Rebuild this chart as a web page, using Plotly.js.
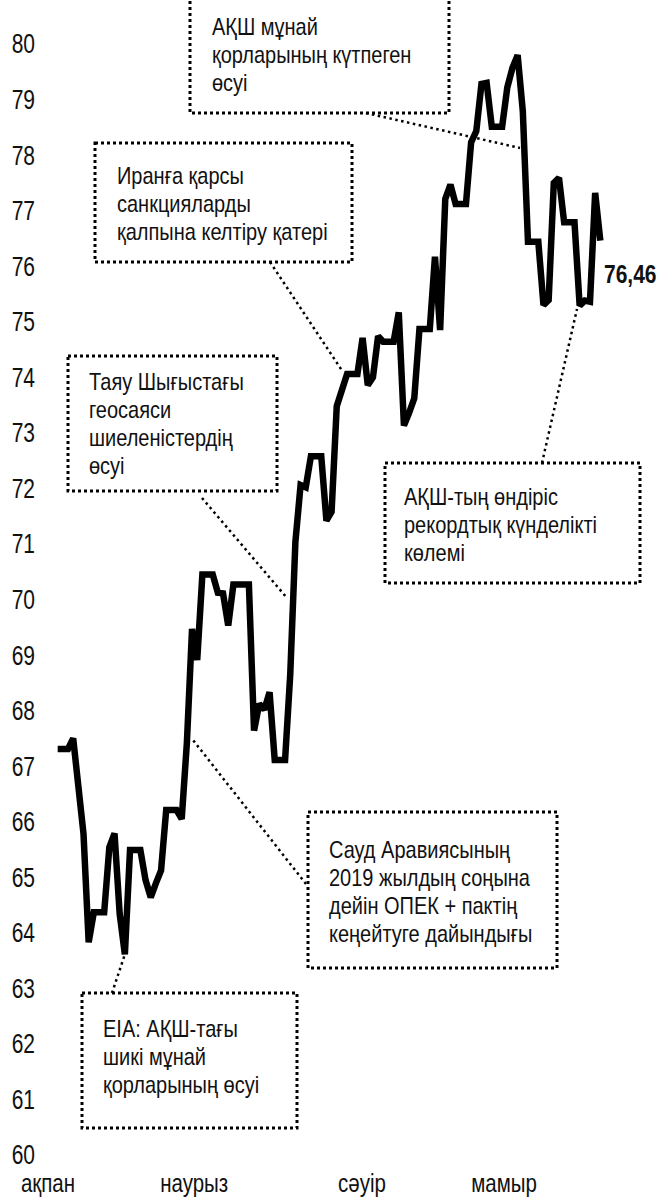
<!DOCTYPE html>
<html>
<head>
<meta charset="utf-8">
<script src="https://cdn.plot.ly/plotly-3.0.1.min.js"></script>
<style>html,body{margin:0;padding:0;background:#fff}</style>
</head>
<body>
<div id="chart" style="width:660px;height:1202px"></div>
<script>
// ---------------- data ----------------
const startDate = '2018-02-23';
const brent = [
  67.31, 67.31, 67.31, 67.50, 66.63, 65.78,                      // 23-28 ақпан
  63.83, 64.37, 64.37, 64.37, 65.54, 65.79, 64.34, 63.61, 65.49, 65.49,
  65.49, 64.95, 64.64, 64.89, 65.12, 66.21, 66.21, 66.21, 66.05, 67.42,
  69.47, 68.91, 70.45, 70.45, 70.45, 70.12, 70.11, 69.53, 70.27, 70.27,
  70.27,                                                         // наурыз
  70.27, 67.64, 68.12, 68.02, 68.33, 67.11, 67.11, 67.11, 68.65, 71.04,
  72.06, 72.02, 72.58, 72.58, 72.58, 71.42, 71.58, 73.48, 73.78, 74.06,
  74.06, 74.06, 74.71, 73.86, 74.00, 74.74, 74.64, 74.64, 74.64, 75.17, // сәуір
  73.13, 73.36, 73.62, 74.87, 74.87, 74.87, 76.17, 74.85, 77.21, 77.47,
  77.12, 77.12, 77.12, 78.23, 78.43, 79.28, 79.30, 78.51, 78.51, 78.51,
  79.22, 79.57, 79.80, 78.79, 76.44, 76.44, 76.44, 75.30, 75.39, 77.50,
  77.59,                                                         // мамыр
  76.79, 76.79, 76.79, 75.29, 75.38, 75.36, 77.32, 76.46          // маусым
];
const monthTicks  = ['2018-02-21 03:00', '2018-03-21 10:00', '2018-04-22 21:00', '2018-05-20 09:00'];
const monthLabels = ['ақпан', 'наурыз', 'сәуір', 'мамыр'];
const yTicks = [60,61,62,63,64,65,66,67,68,69,70,71,72,73,74,75,76,77,78,79,80];
const noteTexts = [
  'АҚШ мұнай<br>қорларының күтпеген<br>өсуі',
  'Иранға қарсы<br>санкцияларды<br>қалпына келтіру қатері',
  'Таяу Шығыстағы<br>геосаяси<br>шиеленістердің<br>өсуі',
  'АҚШ-тың өндіріс<br>рекордтық күнделікті<br>көлемі',
  'Сауд Аравиясының<br>2019 жылдың соңына<br>дейін ОПЕК + пактің<br>кеңейтуге дайындығы',
  'EIA: АҚШ-тағы<br>шикі мұнай<br>қорларының өсуі'
];

// ---------------- geometry (pixels) ----------------
const W = 660, H = 1202, ML = 37, MR = 39, MT = 44, MB = 47;
const PW = W - ML - MR, PH = H - MT - MB;
const fx = x => (x - ML) / PW;
const fy = y => (H - MB - y) / PH;
const FONT = '"Liberation Sans", Arial, sans-serif';
const S = 1.22;            // vertical stretch of all text
const NOTE_SIZE = 20, LINE_GAP = 28;

// boxes: [x0, y0, x1, y1], text left, first baseline, connector [xa, ya, xb, yb]
const notes = [
  {box: [190, -10, 449, 113], tx: 213, base: 35,  link: [366, 113, 520, 148]},
  {box: [95, 143, 352, 262],  tx: 118, base: 184, link: [270, 262, 343, 372]},
  {box: [68, 356, 277, 491],  tx: 90,  base: 390, link: [202, 498, 287, 598]},
  {box: [385, 463, 640, 583], tx: 405, base: 505, link: [542, 463, 577, 309]},
  {box: [308, 812, 557, 968], tx: 330, base: 858, link: [306, 884, 193, 740]},
  {box: [82, 993, 297, 1128], tx: 104, base: 1037, link: [112, 993, 127, 948]}
];

const shapes = [], annotations = [];
notes.forEach((n, i) => {
  shapes.push({type: 'rect', xref: 'paper', yref: 'paper',
    x0: fx(n.box[0]), x1: fx(n.box[2]), y0: fy(n.box[1]), y1: fy(n.box[3]),
    line: {color: '#000', width: 3, dash: '3px,3px'}, fillcolor: 'rgba(0,0,0,0)'});
  shapes.push({type: 'line', xref: 'paper', yref: 'paper',
    x0: fx(n.link[0]), y0: fy(n.link[1]), x1: fx(n.link[2]), y1: fy(n.link[3]),
    line: {color: '#000', width: 2.5, dash: '2.5px,3.5px'}});
  annotations.push({xref: 'paper', yref: 'paper', x: fx(n.tx - 3),
    y: fy(n.base - 0.905 * NOTE_SIZE * S - 2), xanchor: 'left', yanchor: 'top',
    align: 'left', showarrow: false, text: noteTexts[i],
    font: {family: FONT, size: NOTE_SIZE, color: '#111'}});
});

// last value label
const lastIdx = brent.length - 1;
const lastDate = new Date(Date.parse(startDate + 'T00:00:00Z') + lastIdx * 86400000).toISOString().slice(0, 10);
annotations.push({xref: 'x', yref: 'y', x: lastDate, y: brent[lastIdx], xanchor: 'left', yanchor: 'top',
  xshift: 2, yshift: -17, showarrow: false, text: '<b>' + brent[lastIdx].toFixed(2).replace('.', ',') + '</b>',
  font: {family: FONT, size: 21, color: '#111'}});

const trace = {
  type: 'scatter', mode: 'lines', x0: startDate, dx: 86400000, y: brent,
  line: {color: '#000', width: 6.5}, hoverinfo: 'skip'
};

const layout = {
  width: W, height: H, margin: {l: ML, r: MR, t: MT, b: MB, pad: 0},
  paper_bgcolor: '#fff', plot_bgcolor: '#fff', showlegend: false,
  font: {family: FONT, color: '#111'},
  xaxis: {type: 'date', range: ['2018-02-19', '2018-06-12'], showgrid: false, zeroline: false,
    showline: false, ticks: '', tickmode: 'array', tickvals: monthTicks, ticktext: monthLabels,
    tickfont: {family: FONT, size: 20.5, color: '#111'}, ticklabelstandoff: 13},
  yaxis: {range: [60, 80], showgrid: false, zeroline: false, showline: false, ticks: '',
    tickmode: 'array', tickvals: yTicks, ticktext: yTicks.map(String),
    tickfont: {family: FONT, size: 21, color: '#111'}, ticklabelstandoff: 1},
  shapes: shapes, annotations: annotations
};

function stretch(el, s, cy) {
  const tr = el.getAttribute('transform') || '';
  el.setAttribute('transform', tr + ' translate(0 ' + cy + ') scale(1 ' + s + ') translate(0 ' + (-cy) + ')');
}

Plotly.newPlot('chart', [trace], layout, {displayModeBar: false, staticPlot: true}).then(gd => {
  gd.querySelectorAll('.annotation-text').forEach(t => {
    t.querySelectorAll('tspan.line').forEach((ts, i) => ts.setAttribute('dy', i * LINE_GAP / S));
    const b = t.getBBox();
    stretch(t, S, b.y);
  });
  gd.querySelectorAll('.xtick text, .ytick text').forEach(t => {
    const b = t.getBBox();
    stretch(t, 1.28, b.y + b.height / 2);
  });
});
</script>
</body>
</html>
